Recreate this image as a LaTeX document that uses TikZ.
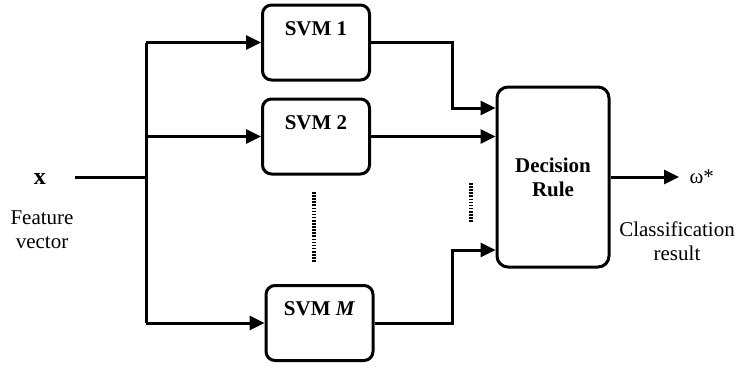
\documentclass[tikz,border=0pt]{standalone}
\usepackage{fontspec}
\setmainfont{Liberation Serif}
\usetikzlibrary{arrows.meta}

\begin{document}
\begin{tikzpicture}[x=1pt,y=-1pt, line width=3pt,
    every node/.style={font=\fontsize{21}{24}\selectfont},
    svm/.style={draw, rounded corners=9pt, minimum width=107pt, inner sep=5pt,
        text height=25pt, text depth=40pt, font=\fontsize{21}{24}\selectfont\bfseries},
    rule/.style={draw, rounded corners=11pt, minimum width=112pt, minimum height=180pt,
        align=center, font=\fontsize{21}{24}\selectfont\bfseries},
    arr/.style={-{Triangle[length=15pt,width=14pt]}},
    dots/.style={line width=3.2pt, dash pattern=on 1.6pt off 1.5pt}]
    \useasboundingbox (0,0) rectangle (756,367);
    \draw (40,179) node (x) {\fontsize{24}{24}\selectfont\textbf{x}};
    \draw (42,230) node[align=center] (feat) {Feature\\vector};
    \draw (316,42.5) node[svm] (s1) {SVM 1};
    \draw (316,136.5) node[svm] (s2) {SVM 2};
    \draw (319.5,323) node[svm] (sM) {SVM \textit{M}};
    \draw (553,177) node[rule] (dec) {Decision\\Rule};
    \draw (679,177) node[anchor=west, inner xsep=9pt] (w) {ω*};
    \draw (677,241) node[align=center] (res) {Classification\\result};
    \coordinate (xin) at (75,177);
    \coordinate (split) at (146,177);
    \coordinate (top) at (146,42.5);
    \coordinate (bot) at (146,323);
    % input fan-out
    \draw (xin) -- (split);
    \draw (top) -- (bot);
    \draw [arr] (top) -- (s1.west);
    \draw [arr] (146,136.5) -- (s2.west);
    \draw [arr] (bot) -- (sM.west);
    % into the decision rule
    \draw [arr] (s1.east) -| (452,108) -- (dec.west |- 452,108);
    \draw [arr] (s2.east) -- (dec.west |- s2.east);
    \draw [arr] (sM.east) -| (452,250) -- (dec.west |- 452,250);
    \draw [arr] (dec.east) -- (w.west);
    \draw [dots] (314,192) -- (314,263);
    \draw [dots] (471,183) -- (471,222);
\end{tikzpicture}
\end{document}
